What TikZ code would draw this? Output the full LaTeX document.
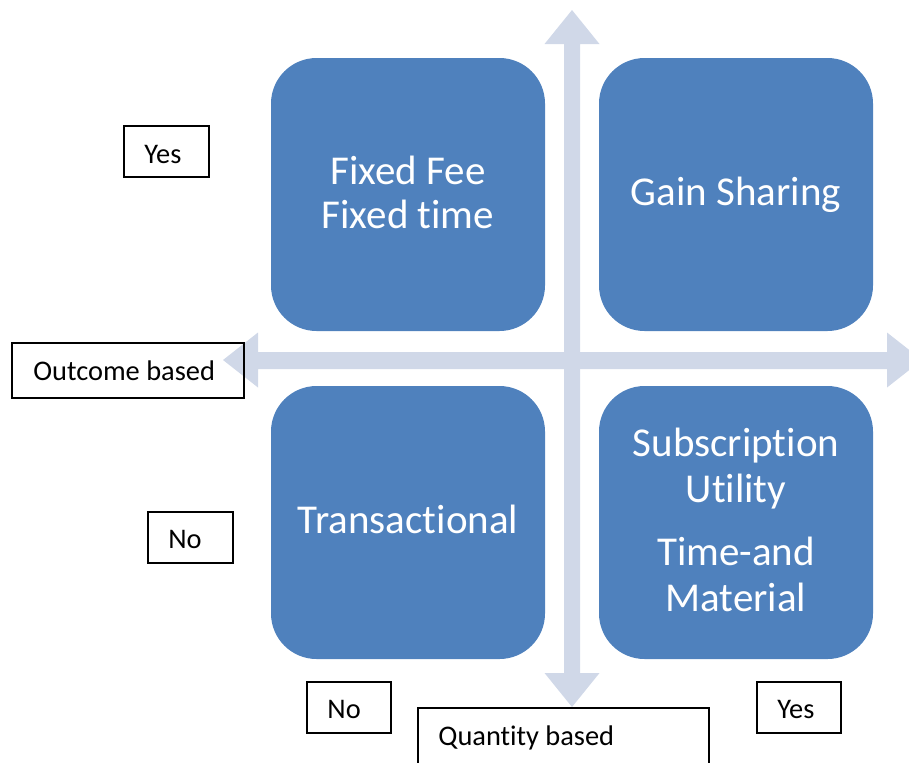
\documentclass[tikz,border=0pt]{standalone}
\usepackage{fontspec}
\setmainfont{Carlito}[Ligatures={NoCommon}]
\definecolor{quadblue}{HTML}{4F81BD}
\definecolor{axisgrey}{HTML}{D0D8E8}
\tikzset{
  quad/.style={fill=quadblue, rounded corners=22.8pt},
  quadtext/.style={text=white, inner sep=0pt, anchor=base,
    font=\fontsize{20.5}{22}\selectfont},
  axis/.style={fill=axisgrey},
  lblbox/.style={draw=black, line width=0.6pt},
  lbltext/.style={text=black, inner sep=0pt, anchor=base west,
    font=\fontsize{14.2}{16}\selectfont},
}
\begin{document}
\begin{tikzpicture}[x=0.5pt, y=-0.5pt]
  \useasboundingbox (0,0) rectangle (909,762);
  \clip (0,0) rectangle (909,762);

  % vertical double arrow (quantity axis)
  \fill[axis] (572,10) -- (599.5,44) -- (580,44) -- (580,673) -- (599.5,673)
    -- (572,707) -- (544.5,673) -- (564,673) -- (564,44) -- (544.5,44) -- cycle;
  % horizontal double arrow (outcome axis)
  \fill[axis] (223,360) -- (258,332.5) -- (258,352) -- (887,352) -- (887,332.5)
    -- (922,360) -- (887,387.5) -- (887,369) -- (258,369) -- (258,387.5) -- cycle;

  % quadrants
  \fill[quad] (271,58) rectangle (545,331);
  \fill[quad] (599,58) rectangle (873,331);
  \fill[quad] (271,386) rectangle (545,659);
  \fill[quad] (599,386) rectangle (873,659);

  \node[quadtext] (ff1) at (408,184) {Fixed Fee};
  \node[quadtext] (ff2) at (408,228) {Fixed time};
  \node[quadtext] (gain) at (736,205) {Gain Sharing};
  \node[quadtext] (trans) at (408,533) {Transactional};
  \node[quadtext] (sub) at (736,456) {Subscription};
  \node[quadtext] (util) at (736,502) {Utility};
  \node[quadtext] (tam1) at (736,565) {Time-and};
  \node[quadtext] (tam2) at (736,611) {Material};

  % axis labels
  \draw[lblbox] (124,126) rectangle (209,177);
  \node[lbltext] (yesTop) at (144,163) {Yes};
  \draw[lblbox] (12,343) rectangle (244,398);
  \node[lbltext] (outcome) at (33,380) {Outcome based};
  \draw[lblbox] (148,512) rectangle (233,563);
  \node[lbltext] (noLeft) at (168,548) {No};
  \draw[lblbox] (307,682) rectangle (391,733);
  \node[lbltext] (noBottom) at (327,718) {No};
  \draw[lblbox] (757,682) rectangle (841,733);
  \node[lbltext] (yesRight) at (777,718) {Yes};
  \draw[lblbox] (418,708) rectangle (709,790);
  \node[lbltext] (quantity) at (438,745) {Quantity based};
\end{tikzpicture}
\end{document}
